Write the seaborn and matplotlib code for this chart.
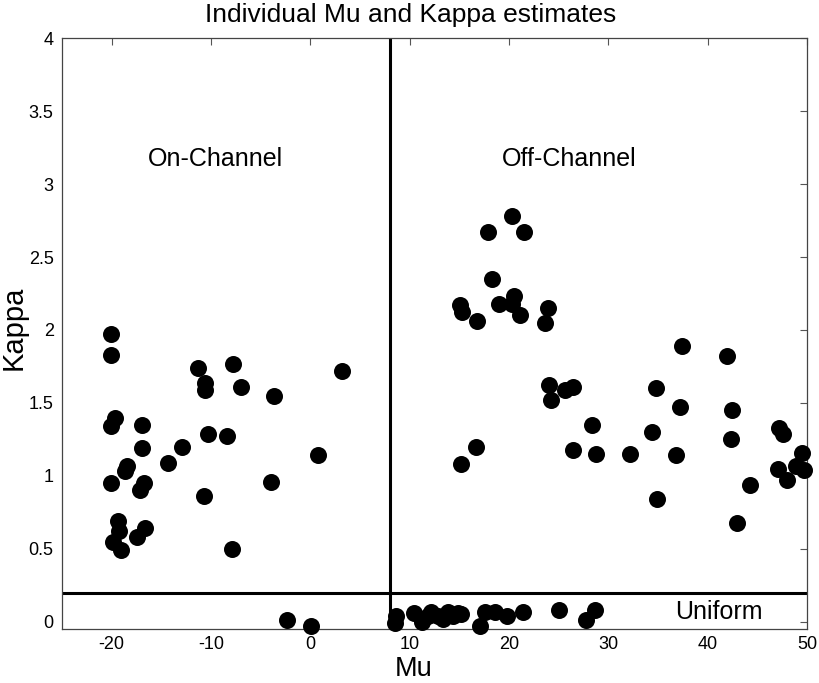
import numpy as np
import pandas as pd
import seaborn as sns
import matplotlib.pyplot as plt

# --------------------
# Data
# --------------------
mu_on = [-20.1, -20.1, -11.3, -7.8, 3.2, -10.6, -10.6, -7.0, -3.7, -19.7, -20.1,
         -16.9, -10.3, -8.4, -16.9, -12.9, -14.3, 0.8, -18.5, -18.7, -20.1, -16.7,
         -17.1, -4.0, -10.7, -19.4, -19.3, -19.9, -19.1, -16.6, -17.4, -7.9]
kappa_on = [1.97, 1.83, 1.74, 1.77, 1.72, 1.64, 1.59, 1.61, 1.55, 1.40, 1.34,
            1.35, 1.29, 1.27, 1.19, 1.20, 1.09, 1.14, 1.07, 1.03, 0.95, 0.95,
            0.90, 0.96, 0.86, 0.69, 0.62, 0.55, 0.49, 0.64, 0.58, 0.50]

mu_off = [20.3, 17.9, 21.5, 18.3, 15.1, 15.3, 16.8, 19.0, 20.5, 20.3, 21.1, 23.9,
          23.6, 24.0, 24.2, 25.6, 26.4, 16.7, 15.2, 26.4, 28.4,
          37.4, 42.0, 34.8, 37.2, 42.5, 34.4, 47.2, 47.6, 42.4, 28.8, 32.2, 36.8,
          49.5, 47.1, 48.9, 49.7, 48.0, 44.3, 34.9, 43.0]
kappa_off = [2.78, 2.67, 2.67, 2.35, 2.17, 2.12, 2.06, 2.18, 2.23, 2.18, 2.10, 2.15,
             2.05, 1.62, 1.52, 1.59, 1.61, 1.20, 1.08, 1.18, 1.35,
             1.89, 1.82, 1.60, 1.47, 1.45, 1.30, 1.33, 1.29, 1.25, 1.15, 1.15, 1.14,
             1.16, 1.05, 1.07, 1.04, 0.97, 0.94, 0.84, 0.68]

mu_uni = [-2.3, 0.1, 8.6, 8.5, 10.4, 11.2, 11.8, 12.2, 12.9, 13.4, 13.9, 14.4,
          14.9, 15.2, 17.1, 17.6, 18.6, 19.8, 21.4, 25.0, 27.8, 28.7]
kappa_uni = [0.01, -0.03, 0.04, -0.01, 0.06, 0.0, 0.04, 0.07, 0.04, 0.02, 0.07, 0.04,
             0.06, 0.05, -0.03, 0.07, 0.07, 0.04, 0.07, 0.08, 0.01, 0.08]

mu_split = 8
kappa_split = 0.2
x_ticks = [-20, -10, 0, 10, 20, 30, 40, 50]
y_ticks = [0, 0.5, 1, 1.5, 2, 2.5, 3, 3.5, 4]
y_tick_labels = ["0", "0.5", "1", "1.5", "2", "2.5", "3", "3.5", "4"]

df = pd.DataFrame({
    "Mu": mu_on + mu_off + mu_uni,
    "Kappa": kappa_on + kappa_off + kappa_uni,
})

# --------------------
# Plot
# --------------------
sns.set_style("white")
plt.rcParams["font.family"] = ["Liberation Sans", "DejaVu Sans"]
plt.rcParams["axes.unicode_minus"] = False
plt.rcParams["text.color"] = "black"
plt.rcParams["axes.labelcolor"] = "black"

fig = plt.figure(figsize=(8.19, 6.83), dpi=100)
ax = fig.add_axes([0.0757, 0.079, 0.9096, 0.865])

sns.scatterplot(data=df, x="Mu", y="Kappa", ax=ax, color="black", s=150,
                edgecolor="black", linewidth=0, clip_on=False, zorder=3)

ax.axvline(mu_split, color="black", lw=2.2, zorder=2)
ax.axhline(kappa_split, color="black", lw=2.2, zorder=2)

ax.text(-9.6, 3.17, "On-Channel", ha="center", va="center", fontsize=18)
ax.text(26.1, 3.17, "Off-Channel", ha="center", va="center", fontsize=18)
ax.text(41.1, 0.07, "Uniform", ha="center", va="center", fontsize=18)

ax.set_xlim(-25, 50)
ax.set_ylim(-0.05, 4)
ax.set_xticks(x_ticks)
ax.set_yticks(y_ticks)
ax.set_yticklabels(y_tick_labels)
ax.tick_params(direction="in", length=5, width=0.8, color="#555555",
               labelcolor="black", labelsize=13, top=True, right=True)
ax.tick_params(axis="x", pad=5)
ax.tick_params(axis="y", pad=6)
for sp in ax.spines.values():
    sp.set_color("#444444")
    sp.set_linewidth(0.9)

ax.set_xlabel("Mu", fontsize=19.5)
ax.xaxis.set_label_coords(0.4725, -0.046)
ax.set_ylabel("Kappa", fontsize=21)
ax.yaxis.set_label_coords(-0.046, 0.51)
ax.set_title("Individual Mu and Kappa estimates", fontsize=19, x=0.468, pad=12)

fig.savefig("out.png", dpi=100)
